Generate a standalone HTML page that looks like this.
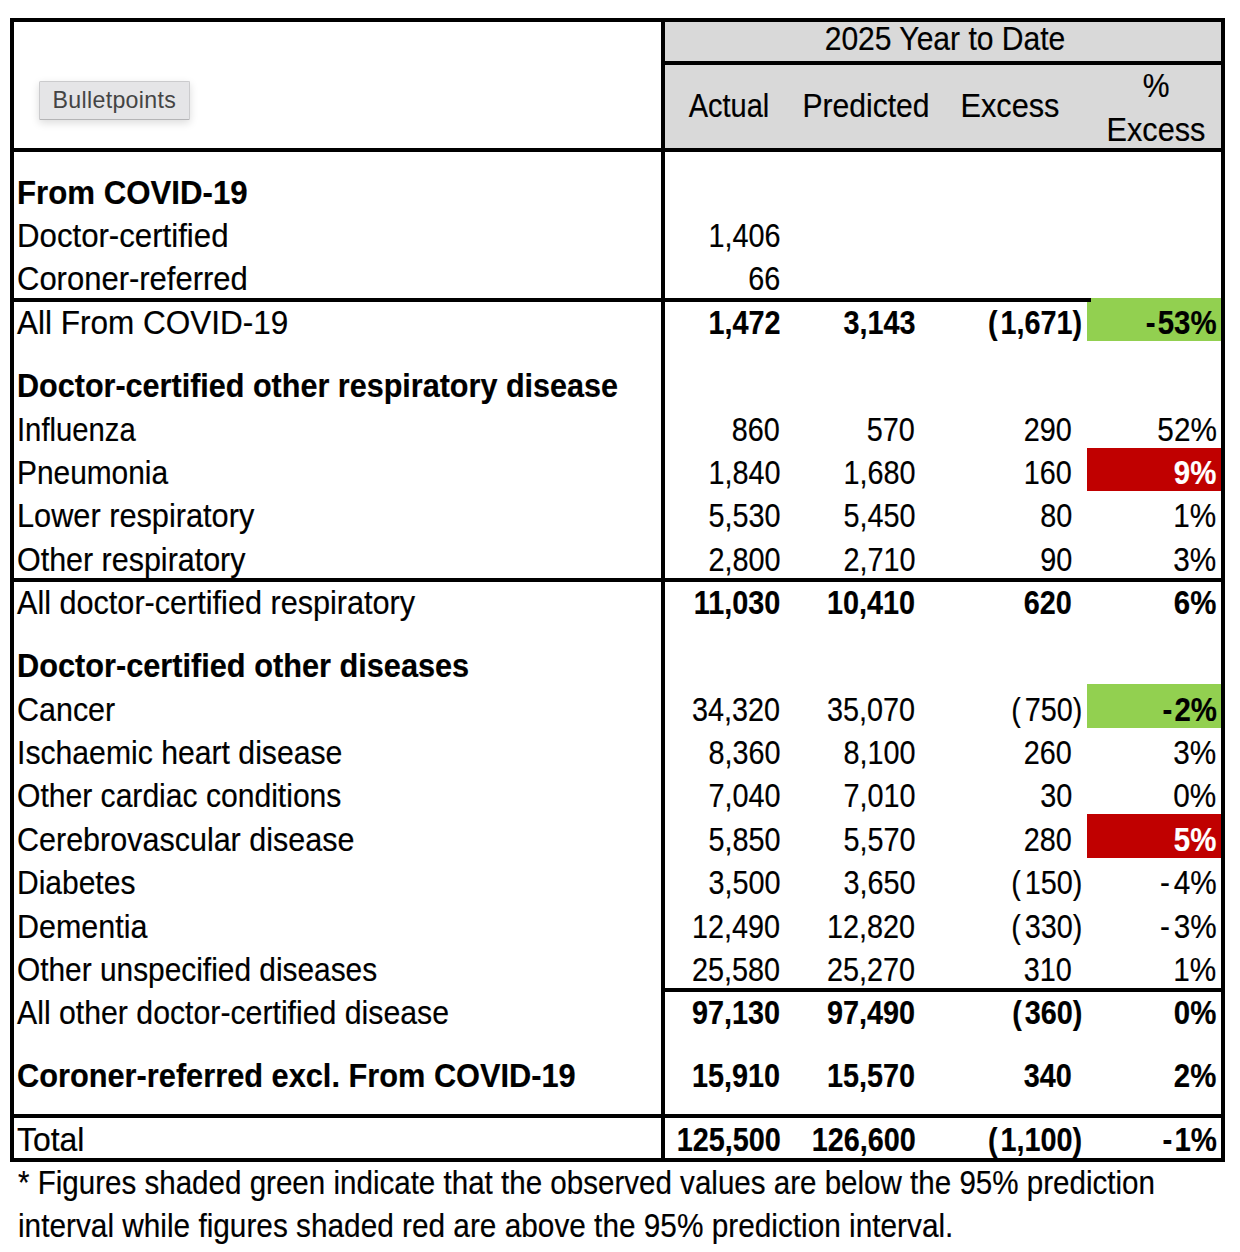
<!DOCTYPE html>
<html><head><meta charset="utf-8"><style>
html,body{margin:0;padding:0;background:#fff;}
body{width:1240px;height:1252px;position:relative;overflow:hidden;font-family:"Liberation Sans",sans-serif;color:#000;}
.r{position:absolute;}
.t{position:absolute;white-space:nowrap;-webkit-text-stroke:0.2px currentColor;}
.btn{position:absolute;left:39px;top:81px;width:149px;height:37px;background:#e5e5e7;border:1px solid #cbcbcd;border-bottom-color:#b4b4b6;border-radius:1.5px;box-shadow:0 3px 9px rgba(0,0,0,0.14);color:#444;}
</style></head><body>
<div class="r" style="left:665px;top:22px;width:556px;height:126px;background:#d9d9d9;"></div>
<div class="r" style="left:1087px;top:298px;width:134px;height:43px;background:#92d050;"></div>
<div class="r" style="left:1087px;top:448px;width:134px;height:43px;background:#c00000;"></div>
<div class="r" style="left:1087px;top:684px;width:134px;height:44px;background:#92d050;"></div>
<div class="r" style="left:1087px;top:814px;width:134px;height:44px;background:#c00000;"></div>
<div class="r" style="left:10px;top:18px;width:1215px;height:4px;background:#000;"></div>
<div class="r" style="left:10px;top:1158px;width:1215px;height:4px;background:#000;"></div>
<div class="r" style="left:10px;top:18px;width:4px;height:1144px;background:#000;"></div>
<div class="r" style="left:1221px;top:18px;width:4px;height:1144px;background:#000;"></div>
<div class="r" style="left:661px;top:18px;width:4px;height:1144px;background:#000;"></div>
<div class="r" style="left:665px;top:61px;width:556px;height:4px;background:#000;"></div>
<div class="r" style="left:10px;top:148px;width:1215px;height:4px;background:#000;"></div>
<div class="r" style="left:10px;top:298px;width:1081px;height:4px;background:#000;"></div>
<div class="r" style="left:10px;top:578px;width:1215px;height:4px;background:#000;"></div>
<div class="r" style="left:665px;top:988px;width:556px;height:4px;background:#000;"></div>
<div class="r" style="left:10px;top:1114px;width:1215px;height:4px;background:#000;"></div>
<div class="t" style="top:21.80px;font-size:33.4px;line-height:33.4px;left:795.00px;width:300px;text-align:center;transform-origin:50% 0;transform:scaleX(0.9);">2025 Year to Date</div>
<div class="t" style="top:88.80px;font-size:33.4px;line-height:33.4px;left:578.60px;width:300px;text-align:center;transform-origin:50% 0;transform:scaleX(0.868);">Actual</div>
<div class="t" style="top:88.80px;font-size:33.4px;line-height:33.4px;left:716.30px;width:300px;text-align:center;transform-origin:50% 0;transform:scaleX(0.9);">Predicted</div>
<div class="t" style="top:88.80px;font-size:33.4px;line-height:33.4px;left:859.50px;width:300px;text-align:center;transform-origin:50% 0;transform:scaleX(0.919);">Excess</div>
<div class="t" style="top:68.80px;font-size:33.4px;line-height:33.4px;left:1006.00px;width:300px;text-align:center;transform-origin:50% 0;transform:scaleX(0.9);">%</div>
<div class="t" style="top:112.80px;font-size:33.4px;line-height:33.4px;left:1005.50px;width:300px;text-align:center;transform-origin:50% 0;transform:scaleX(0.919);">Excess</div>
<div class="t" style="top:175.80px;font-size:33.4px;line-height:33.4px;font-weight:bold;left:17.30px;transform-origin:0 0;transform:scaleX(0.9347);">From COVID-19</div>
<div class="t" style="top:218.80px;font-size:33.4px;line-height:33.4px;left:17.30px;transform-origin:0 0;transform:scaleX(0.9342);">Doctor-certified</div>
<div class="t" style="top:218.80px;font-size:33.4px;line-height:33.4px;right:459.80px;transform-origin:100% 0;transform:scaleX(0.862);">1,406</div>
<div class="t" style="top:262.30px;font-size:33.4px;line-height:33.4px;left:17.30px;transform-origin:0 0;transform:scaleX(0.9282);">Coroner-referred</div>
<div class="t" style="top:262.30px;font-size:33.4px;line-height:33.4px;right:459.80px;transform-origin:100% 0;transform:scaleX(0.862);">66</div>
<div class="t" style="top:305.80px;font-size:33.4px;line-height:33.4px;left:17.30px;transform-origin:0 0;transform:scaleX(0.9434);">All From COVID-19</div>
<div class="t" style="top:305.80px;font-size:33.4px;line-height:33.4px;font-weight:bold;right:459.80px;transform-origin:100% 0;transform:scaleX(0.862);">1,472</div>
<div class="t" style="top:305.80px;font-size:33.4px;line-height:33.4px;font-weight:bold;right:324.80px;transform-origin:100% 0;transform:scaleX(0.862);">3,143</div>
<div class="t" style="top:305.80px;font-size:33.4px;line-height:33.4px;font-weight:bold;right:157.70px;transform-origin:100% 0;transform:scaleX(0.862);"><span style="margin-right:3.4px">(</span>1,671)</div>
<div class="t" style="top:305.80px;font-size:33.4px;line-height:33.4px;font-weight:bold;right:23.50px;transform-origin:100% 0;transform:scaleX(0.88);"><span style="margin-right:2.6px">-</span>53%</div>
<div class="t" style="top:369.30px;font-size:33.4px;line-height:33.4px;font-weight:bold;left:17.30px;transform-origin:0 0;transform:scaleX(0.9149);">Doctor-certified other respiratory disease</div>
<div class="t" style="top:412.80px;font-size:33.4px;line-height:33.4px;left:17.30px;transform-origin:0 0;transform:scaleX(0.8754);">Influenza</div>
<div class="t" style="top:412.80px;font-size:33.4px;line-height:33.4px;right:459.80px;transform-origin:100% 0;transform:scaleX(0.862);">860</div>
<div class="t" style="top:412.80px;font-size:33.4px;line-height:33.4px;right:324.80px;transform-origin:100% 0;transform:scaleX(0.862);">570</div>
<div class="t" style="top:412.80px;font-size:33.4px;line-height:33.4px;right:168.00px;transform-origin:100% 0;transform:scaleX(0.862);">290</div>
<div class="t" style="top:412.80px;font-size:33.4px;line-height:33.4px;right:23.50px;transform-origin:100% 0;transform:scaleX(0.89);">52%</div>
<div class="t" style="top:455.80px;font-size:33.4px;line-height:33.4px;left:17.30px;transform-origin:0 0;transform:scaleX(0.8943);">Pneumonia</div>
<div class="t" style="top:455.80px;font-size:33.4px;line-height:33.4px;right:459.80px;transform-origin:100% 0;transform:scaleX(0.862);">1,840</div>
<div class="t" style="top:455.80px;font-size:33.4px;line-height:33.4px;right:324.80px;transform-origin:100% 0;transform:scaleX(0.862);">1,680</div>
<div class="t" style="top:455.80px;font-size:33.4px;line-height:33.4px;right:168.00px;transform-origin:100% 0;transform:scaleX(0.862);">160</div>
<div class="t" style="top:455.80px;font-size:33.4px;line-height:33.4px;font-weight:bold;color:#fff;right:23.50px;transform-origin:100% 0;transform:scaleX(0.88);">9%</div>
<div class="t" style="top:498.80px;font-size:33.4px;line-height:33.4px;left:17.30px;transform-origin:0 0;transform:scaleX(0.9197);">Lower respiratory</div>
<div class="t" style="top:498.80px;font-size:33.4px;line-height:33.4px;right:459.80px;transform-origin:100% 0;transform:scaleX(0.862);">5,530</div>
<div class="t" style="top:498.80px;font-size:33.4px;line-height:33.4px;right:324.80px;transform-origin:100% 0;transform:scaleX(0.862);">5,450</div>
<div class="t" style="top:498.80px;font-size:33.4px;line-height:33.4px;right:168.00px;transform-origin:100% 0;transform:scaleX(0.862);">80</div>
<div class="t" style="top:498.80px;font-size:33.4px;line-height:33.4px;right:23.50px;transform-origin:100% 0;transform:scaleX(0.89);">1%</div>
<div class="t" style="top:542.80px;font-size:33.4px;line-height:33.4px;left:17.30px;transform-origin:0 0;transform:scaleX(0.912);">Other respiratory</div>
<div class="t" style="top:542.80px;font-size:33.4px;line-height:33.4px;right:459.80px;transform-origin:100% 0;transform:scaleX(0.862);">2,800</div>
<div class="t" style="top:542.80px;font-size:33.4px;line-height:33.4px;right:324.80px;transform-origin:100% 0;transform:scaleX(0.862);">2,710</div>
<div class="t" style="top:542.80px;font-size:33.4px;line-height:33.4px;right:168.00px;transform-origin:100% 0;transform:scaleX(0.862);">90</div>
<div class="t" style="top:542.80px;font-size:33.4px;line-height:33.4px;right:23.50px;transform-origin:100% 0;transform:scaleX(0.89);">3%</div>
<div class="t" style="top:585.80px;font-size:33.4px;line-height:33.4px;left:17.30px;transform-origin:0 0;transform:scaleX(0.9166);">All doctor-certified respiratory</div>
<div class="t" style="top:585.80px;font-size:33.4px;line-height:33.4px;font-weight:bold;right:459.80px;transform-origin:100% 0;transform:scaleX(0.862);">11,030</div>
<div class="t" style="top:585.80px;font-size:33.4px;line-height:33.4px;font-weight:bold;right:324.80px;transform-origin:100% 0;transform:scaleX(0.862);">10,410</div>
<div class="t" style="top:585.80px;font-size:33.4px;line-height:33.4px;font-weight:bold;right:168.00px;transform-origin:100% 0;transform:scaleX(0.862);">620</div>
<div class="t" style="top:585.80px;font-size:33.4px;line-height:33.4px;font-weight:bold;right:23.50px;transform-origin:100% 0;transform:scaleX(0.88);">6%</div>
<div class="t" style="top:649.30px;font-size:33.4px;line-height:33.4px;font-weight:bold;left:17.30px;transform-origin:0 0;transform:scaleX(0.9196);">Doctor-certified other diseases</div>
<div class="t" style="top:692.80px;font-size:33.4px;line-height:33.4px;left:17.30px;transform-origin:0 0;transform:scaleX(0.9122);">Cancer</div>
<div class="t" style="top:692.80px;font-size:33.4px;line-height:33.4px;right:459.80px;transform-origin:100% 0;transform:scaleX(0.862);">34,320</div>
<div class="t" style="top:692.80px;font-size:33.4px;line-height:33.4px;right:324.80px;transform-origin:100% 0;transform:scaleX(0.862);">35,070</div>
<div class="t" style="top:692.80px;font-size:33.4px;line-height:33.4px;right:157.70px;transform-origin:100% 0;transform:scaleX(0.862);"><span style="margin-right:4.4px">(</span>750)</div>
<div class="t" style="top:692.80px;font-size:33.4px;line-height:33.4px;font-weight:bold;right:23.50px;transform-origin:100% 0;transform:scaleX(0.88);"><span style="margin-right:2.6px">-</span>2%</div>
<div class="t" style="top:735.80px;font-size:33.4px;line-height:33.4px;left:17.30px;transform-origin:0 0;transform:scaleX(0.9036);">Ischaemic heart disease</div>
<div class="t" style="top:735.80px;font-size:33.4px;line-height:33.4px;right:459.80px;transform-origin:100% 0;transform:scaleX(0.862);">8,360</div>
<div class="t" style="top:735.80px;font-size:33.4px;line-height:33.4px;right:324.80px;transform-origin:100% 0;transform:scaleX(0.862);">8,100</div>
<div class="t" style="top:735.80px;font-size:33.4px;line-height:33.4px;right:168.00px;transform-origin:100% 0;transform:scaleX(0.862);">260</div>
<div class="t" style="top:735.80px;font-size:33.4px;line-height:33.4px;right:23.50px;transform-origin:100% 0;transform:scaleX(0.89);">3%</div>
<div class="t" style="top:779.30px;font-size:33.4px;line-height:33.4px;left:17.30px;transform-origin:0 0;transform:scaleX(0.9009);">Other cardiac conditions</div>
<div class="t" style="top:779.30px;font-size:33.4px;line-height:33.4px;right:459.80px;transform-origin:100% 0;transform:scaleX(0.862);">7,040</div>
<div class="t" style="top:779.30px;font-size:33.4px;line-height:33.4px;right:324.80px;transform-origin:100% 0;transform:scaleX(0.862);">7,010</div>
<div class="t" style="top:779.30px;font-size:33.4px;line-height:33.4px;right:168.00px;transform-origin:100% 0;transform:scaleX(0.862);">30</div>
<div class="t" style="top:779.30px;font-size:33.4px;line-height:33.4px;right:23.50px;transform-origin:100% 0;transform:scaleX(0.89);">0%</div>
<div class="t" style="top:822.80px;font-size:33.4px;line-height:33.4px;left:17.30px;transform-origin:0 0;transform:scaleX(0.9135);">Cerebrovascular disease</div>
<div class="t" style="top:822.80px;font-size:33.4px;line-height:33.4px;right:459.80px;transform-origin:100% 0;transform:scaleX(0.862);">5,850</div>
<div class="t" style="top:822.80px;font-size:33.4px;line-height:33.4px;right:324.80px;transform-origin:100% 0;transform:scaleX(0.862);">5,570</div>
<div class="t" style="top:822.80px;font-size:33.4px;line-height:33.4px;right:168.00px;transform-origin:100% 0;transform:scaleX(0.862);">280</div>
<div class="t" style="top:822.80px;font-size:33.4px;line-height:33.4px;font-weight:bold;color:#fff;right:23.50px;transform-origin:100% 0;transform:scaleX(0.88);">5%</div>
<div class="t" style="top:865.80px;font-size:33.4px;line-height:33.4px;left:17.30px;transform-origin:0 0;transform:scaleX(0.8983);">Diabetes</div>
<div class="t" style="top:865.80px;font-size:33.4px;line-height:33.4px;right:459.80px;transform-origin:100% 0;transform:scaleX(0.862);">3,500</div>
<div class="t" style="top:865.80px;font-size:33.4px;line-height:33.4px;right:324.80px;transform-origin:100% 0;transform:scaleX(0.862);">3,650</div>
<div class="t" style="top:865.80px;font-size:33.4px;line-height:33.4px;right:157.70px;transform-origin:100% 0;transform:scaleX(0.862);"><span style="margin-right:4.4px">(</span>150)</div>
<div class="t" style="top:865.80px;font-size:33.4px;line-height:33.4px;right:23.50px;transform-origin:100% 0;transform:scaleX(0.89);"><span style="margin-right:4.4px">-</span>4%</div>
<div class="t" style="top:909.80px;font-size:33.4px;line-height:33.4px;left:17.30px;transform-origin:0 0;transform:scaleX(0.912);">Dementia</div>
<div class="t" style="top:909.80px;font-size:33.4px;line-height:33.4px;right:459.80px;transform-origin:100% 0;transform:scaleX(0.862);">12,490</div>
<div class="t" style="top:909.80px;font-size:33.4px;line-height:33.4px;right:324.80px;transform-origin:100% 0;transform:scaleX(0.862);">12,820</div>
<div class="t" style="top:909.80px;font-size:33.4px;line-height:33.4px;right:157.70px;transform-origin:100% 0;transform:scaleX(0.862);"><span style="margin-right:4.4px">(</span>330)</div>
<div class="t" style="top:909.80px;font-size:33.4px;line-height:33.4px;right:23.50px;transform-origin:100% 0;transform:scaleX(0.89);"><span style="margin-right:4.4px">-</span>3%</div>
<div class="t" style="top:952.80px;font-size:33.4px;line-height:33.4px;left:17.30px;transform-origin:0 0;transform:scaleX(0.8941);">Other unspecified diseases</div>
<div class="t" style="top:952.80px;font-size:33.4px;line-height:33.4px;right:459.80px;transform-origin:100% 0;transform:scaleX(0.862);">25,580</div>
<div class="t" style="top:952.80px;font-size:33.4px;line-height:33.4px;right:324.80px;transform-origin:100% 0;transform:scaleX(0.862);">25,270</div>
<div class="t" style="top:952.80px;font-size:33.4px;line-height:33.4px;right:168.00px;transform-origin:100% 0;transform:scaleX(0.862);">310</div>
<div class="t" style="top:952.80px;font-size:33.4px;line-height:33.4px;right:23.50px;transform-origin:100% 0;transform:scaleX(0.89);">1%</div>
<div class="t" style="top:995.80px;font-size:33.4px;line-height:33.4px;left:17.30px;transform-origin:0 0;transform:scaleX(0.9057);">All other doctor-certified disease</div>
<div class="t" style="top:995.80px;font-size:33.4px;line-height:33.4px;font-weight:bold;right:459.80px;transform-origin:100% 0;transform:scaleX(0.862);">97,130</div>
<div class="t" style="top:995.80px;font-size:33.4px;line-height:33.4px;font-weight:bold;right:324.80px;transform-origin:100% 0;transform:scaleX(0.862);">97,490</div>
<div class="t" style="top:995.80px;font-size:33.4px;line-height:33.4px;font-weight:bold;right:157.70px;transform-origin:100% 0;transform:scaleX(0.862);"><span style="margin-right:3.4px">(</span>360)</div>
<div class="t" style="top:995.80px;font-size:33.4px;line-height:33.4px;font-weight:bold;right:23.50px;transform-origin:100% 0;transform:scaleX(0.88);">0%</div>
<div class="t" style="top:1058.80px;font-size:33.4px;line-height:33.4px;font-weight:bold;left:17.30px;transform-origin:0 0;transform:scaleX(0.9208);">Coroner-referred excl. From COVID-19</div>
<div class="t" style="top:1058.80px;font-size:33.4px;line-height:33.4px;font-weight:bold;right:459.80px;transform-origin:100% 0;transform:scaleX(0.862);">15,910</div>
<div class="t" style="top:1058.80px;font-size:33.4px;line-height:33.4px;font-weight:bold;right:324.80px;transform-origin:100% 0;transform:scaleX(0.862);">15,570</div>
<div class="t" style="top:1058.80px;font-size:33.4px;line-height:33.4px;font-weight:bold;right:168.00px;transform-origin:100% 0;transform:scaleX(0.862);">340</div>
<div class="t" style="top:1058.80px;font-size:33.4px;line-height:33.4px;font-weight:bold;right:23.50px;transform-origin:100% 0;transform:scaleX(0.88);">2%</div>
<div class="t" style="top:1122.80px;font-size:33.4px;line-height:33.4px;left:17.30px;transform-origin:0 0;transform:scaleX(0.956);">Total</div>
<div class="t" style="top:1122.80px;font-size:33.4px;line-height:33.4px;font-weight:bold;right:459.80px;transform-origin:100% 0;transform:scaleX(0.862);">125,500</div>
<div class="t" style="top:1122.80px;font-size:33.4px;line-height:33.4px;font-weight:bold;right:324.80px;transform-origin:100% 0;transform:scaleX(0.862);">126,600</div>
<div class="t" style="top:1122.80px;font-size:33.4px;line-height:33.4px;font-weight:bold;right:157.70px;transform-origin:100% 0;transform:scaleX(0.862);"><span style="margin-right:3.4px">(</span>1,100)</div>
<div class="t" style="top:1122.80px;font-size:33.4px;line-height:33.4px;font-weight:bold;right:23.50px;transform-origin:100% 0;transform:scaleX(0.88);"><span style="margin-right:2.6px">-</span>1%</div>
<div class="t" style="top:1165.80px;font-size:33.4px;line-height:33.4px;left:17.60px;transform-origin:0 0;transform:scaleX(0.8851);">* Figures shaded green indicate that the observed values are below the 95% prediction</div>
<div class="t" style="top:1208.60px;font-size:33.4px;line-height:33.4px;left:17.50px;transform-origin:0 0;transform:scaleX(0.8919);">interval while figures shaded red are above the 95% prediction interval.</div>
<div class="btn"><span style="position:absolute;left:12.6px;top:-1.0px;line-height:38px;letter-spacing:0.3px;font-size:23.2px">Bulletpoints</span></div>
</body></html>
